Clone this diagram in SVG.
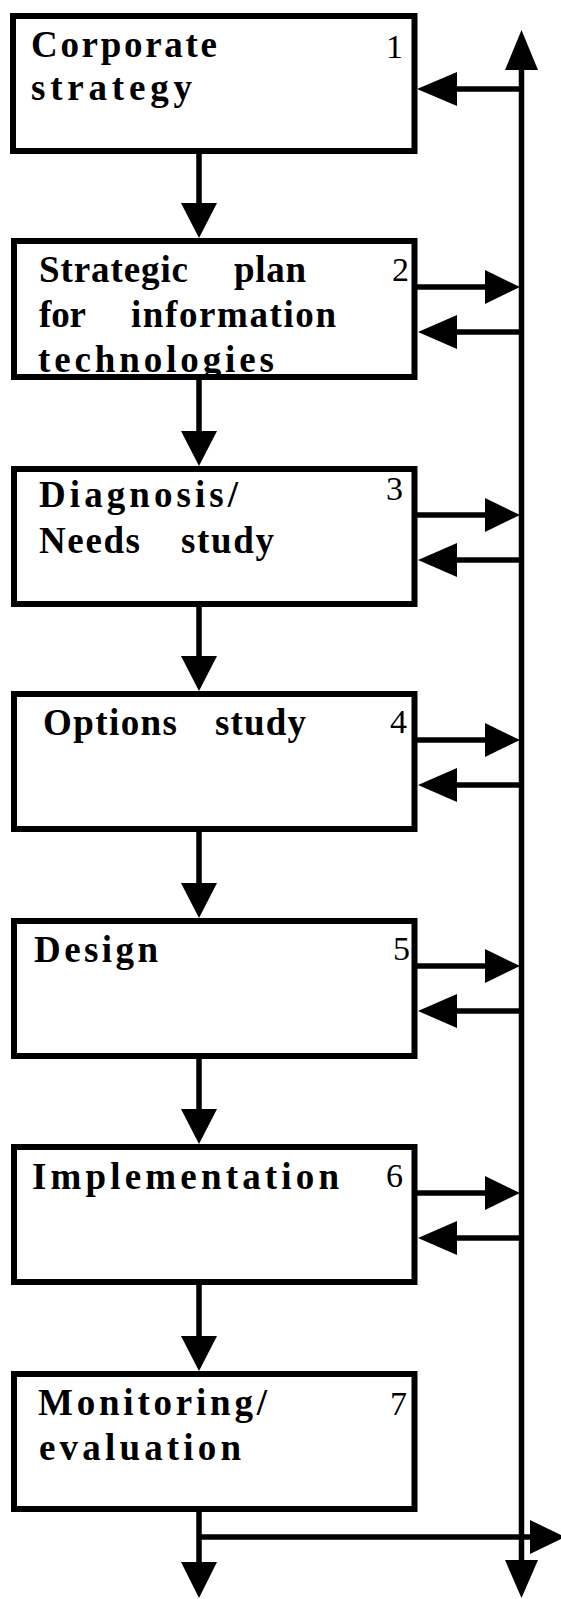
<svg xmlns="http://www.w3.org/2000/svg" width="561" height="1599" viewBox="0 0 561 1599">
<style>
.box{fill:#fff;stroke:#000;stroke-width:6}
.ln{stroke:#000;stroke-width:5.5;fill:none}
.hd{fill:#000}
.t{font-family:"Liberation Serif","Times New Roman",serif;font-weight:bold;font-size:37px;fill:#000}
.n{font-family:"Liberation Serif","Times New Roman",serif;font-size:34px;fill:#000}
</style>
<rect width="561" height="1599" fill="#fff"/>
<g id="connectors">
<line class="ln" x1="521.5" y1="68" x2="521.5" y2="1562"/>
<polygon class="hd" points="505,70 538,70 521.5,30"/>
<polygon class="hd" points="505,1560 538,1560 521.5,1598"/>
<line class="ln" x1="521.5" y1="89" x2="450" y2="89"/>
<polygon class="hd" points="457,72 457,106 417,89"/>
<g id="down-arrows">
<line class="ln" x1="199" y1="151" x2="199" y2="205"/><polygon class="hd" points="181,203 217,203 199,238"/>
<line class="ln" x1="199" y1="377" x2="199" y2="433"/><polygon class="hd" points="181,431 217,431 199,466"/>
<line class="ln" x1="199" y1="604" x2="199" y2="658"/><polygon class="hd" points="181,656 217,656 199,691"/>
<line class="ln" x1="199" y1="829" x2="199" y2="885"/><polygon class="hd" points="181,883 217,883 199,918"/>
<line class="ln" x1="199" y1="1056" x2="199" y2="1111"/><polygon class="hd" points="181,1109 217,1109 199,1144"/>
<line class="ln" x1="199" y1="1282" x2="199" y2="1338"/><polygon class="hd" points="181,1336 217,1336 199,1371"/>
<line class="ln" x1="199" y1="1509" x2="199" y2="1564"/><polygon class="hd" points="181,1562 217,1562 199,1598"/>
</g>
<g id="side-arrows">
<line class="ln" x1="410" y1="287" x2="490" y2="287"/><polygon class="hd" points="485,270 485,304 520,287"/>
<line class="ln" x1="521.5" y1="332" x2="450" y2="332"/><polygon class="hd" points="457,315 457,349 418,332"/>
<line class="ln" x1="414" y1="515" x2="490" y2="515"/><polygon class="hd" points="485,498 485,532 520,515"/>
<line class="ln" x1="521.5" y1="560" x2="450" y2="560"/><polygon class="hd" points="457,543 457,577 418,560"/>
<line class="ln" x1="414" y1="740" x2="490" y2="740"/><polygon class="hd" points="485,723 485,757 520,740"/>
<line class="ln" x1="521.5" y1="785" x2="450" y2="785"/><polygon class="hd" points="457,768 457,802 418,785"/>
<line class="ln" x1="414" y1="966" x2="490" y2="966"/><polygon class="hd" points="485,949 485,983 520,966"/>
<line class="ln" x1="521.5" y1="1011" x2="450" y2="1011"/><polygon class="hd" points="457,994 457,1028 418,1011"/>
<line class="ln" x1="414" y1="1193" x2="490" y2="1193"/><polygon class="hd" points="485,1176 485,1210 520,1193"/>
<line class="ln" x1="521.5" y1="1238" x2="450" y2="1238"/><polygon class="hd" points="457,1221 457,1255 418,1238"/>
</g>
<line class="ln" x1="199" y1="1537" x2="535" y2="1537"/>
<polygon class="hd" points="530,1520 530,1554 565,1537"/>
</g>
<g id="node1">
<rect class="box" x="13" y="16" width="401.5" height="135"/>
<text class="t" x="31" y="57" textLength="186" lengthAdjust="spacing">Corporate</text>
<text class="t" x="31" y="100" textLength="161" lengthAdjust="spacing">strategy</text>
<text class="n" x="386" y="58">1</text>
</g>
<g id="node2">
<rect class="box" x="14" y="241" width="400.5" height="136"/>
<text class="t" x="39" y="282" textLength="149" lengthAdjust="spacing">Strategic</text>
<text class="t" x="234" y="282" textLength="72" lengthAdjust="spacing">plan</text>
<text class="t" x="39" y="327" textLength="47" lengthAdjust="spacing">for</text>
<text class="t" x="131" y="327" textLength="205" lengthAdjust="spacing">information</text>
<text class="t" x="38" y="372" textLength="236" lengthAdjust="spacing">technologies</text>
<text class="n" x="392" y="281">2</text>
</g>
<g id="node3">
<rect class="box" x="14" y="469" width="400.5" height="135"/>
<text class="t" x="39" y="507" textLength="199" lengthAdjust="spacing">Diagnosis/</text>
<text class="t" x="39" y="553" textLength="101" lengthAdjust="spacing">Needs</text>
<text class="t" x="181" y="553" textLength="93" lengthAdjust="spacing">study</text>
<text class="n" x="386" y="500">3</text>
</g>
<g id="node4">
<rect class="box" x="14" y="694" width="400.5" height="135"/>
<text class="t" x="43" y="735" textLength="134" lengthAdjust="spacing">Options</text>
<text class="t" x="215" y="735" textLength="91" lengthAdjust="spacing">study</text>
<text class="n" x="390" y="733">4</text>
</g>
<g id="node5">
<rect class="box" x="14" y="921" width="400.5" height="135"/>
<text class="t" x="34" y="962" textLength="124" lengthAdjust="spacing">Design</text>
<text class="n" x="393" y="960">5</text>
</g>
<g id="node6">
<rect class="box" x="14" y="1147" width="400.5" height="135"/>
<text class="t" x="32" y="1189" textLength="307" lengthAdjust="spacing">Implementation</text>
<text class="n" x="386" y="1187">6</text>
</g>
<g id="node7">
<rect class="box" x="14" y="1374" width="400.5" height="135"/>
<text class="t" x="38" y="1415" textLength="229" lengthAdjust="spacing">Monitoring/</text>
<text class="t" x="39" y="1460" textLength="202" lengthAdjust="spacing">evaluation</text>
<text class="n" x="390" y="1415">7</text>
</g>
</svg>
